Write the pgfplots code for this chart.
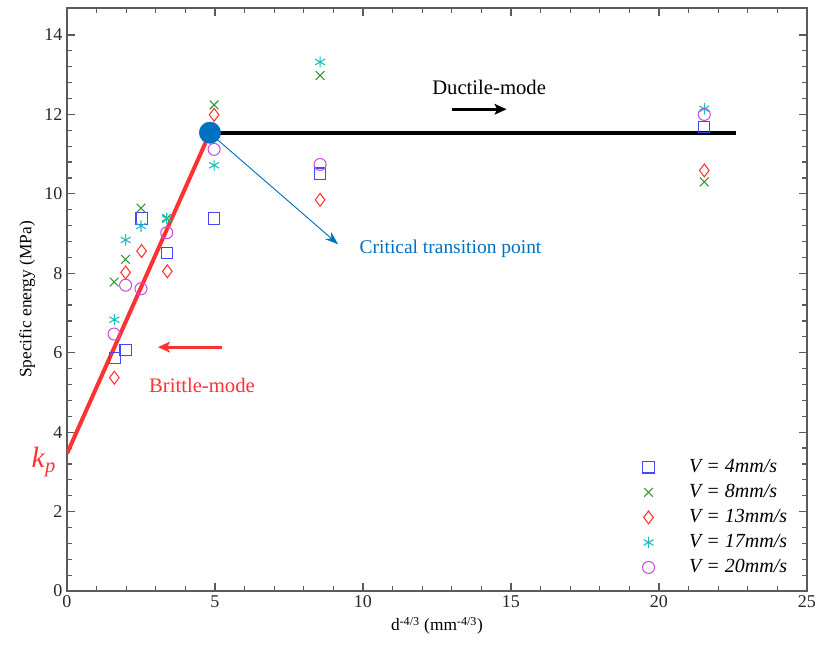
\documentclass[border=0pt]{standalone}
\usepackage{fontspec}
\setmainfont{Liberation Serif}
\usepackage{pgfplots}
\pgfplotsset{compat=1.18}
\usetikzlibrary{arrows.meta}
\definecolor{cblue}{RGB}{70,70,250}
\definecolor{cgreen}{RGB}{50,150,50}
\definecolor{cred}{RGB}{255,50,50}
\definecolor{ccyan}{RGB}{30,190,190}
\definecolor{cmag}{RGB}{200,80,220}
\definecolor{dotblue}{RGB}{0,112,192}
\definecolor{axgray}{RGB}{90,90,90}
\begin{document}
\begin{tikzpicture}
\begin{axis}[
  scale only axis,
  width=555pt, height=437.25pt,
  xmin=0, xmax=25, ymin=0, ymax=14.68,
  clip mode=individual,
  xtick={0,5,...,25}, ytick={0,2,...,14},
  minor x tick num=4, minor y tick num=4,
  tick align=inside, tick pos=both,
  major tick length=6pt, minor tick length=3.5pt,
  axis line style={axgray, line width=1.1pt},
  every tick/.style={axgray, line width=0.9pt},
  /pgf/number format/assume math mode=true,
  ticklabel style={font=\fontsize{13.5}{16}\selectfont, text=black!85},
  xlabel={d\textsuperscript{-4/3} (mm\textsuperscript{-4/3})},
  ylabel={Specific energy (MPa)},
  xlabel style={font=\fontsize{13}{15}\selectfont},
  ylabel style={font=\fontsize{13}{15}\selectfont},
  legend cell align=left,
  legend style={at={(rel axis cs:0.772,0.233)}, anchor=north west, draw=none, fill=none,
    font=\fontsize{15}{17}\selectfont\itshape,
    nodes={inner sep=0pt, text height=11pt, text depth=3pt},
    row sep=4.75pt,
    /tikz/every odd column/.append style={column sep=26pt}},
]
% fitted lines
\addplot[cred, line width=3pt, forget plot] coordinates {(0,3.46) (4.83,11.54)};
\addplot[black, line width=3pt, forget plot] coordinates {(4.83,11.54) (22.6,11.54)};

\addplot[only marks, mark=square, mark size=4.2pt, cblue, mark options={line width=0.8pt}] coordinates {
 (1.62,5.87) (1.98,6.06) (2.52,9.38) (3.39,8.51) (4.97,9.38) (8.55,10.51) (21.53,11.68)};
\addlegendentry{V = 4mm/s}
\addplot[only marks, mark=x, mark size=4.6pt, cgreen, mark options={line width=0.8pt}] coordinates {
 (1.59,7.78) (1.98,8.35) (2.50,9.64) (3.37,9.38) (4.97,12.24) (8.55,12.98) (21.53,10.30)};
\addlegendentry{V = 8mm/s}
\addplot[only marks, mark=diamond, mark size=4.8pt, cred, mark options={line width=0.8pt}] coordinates {
 (1.60,5.37) (1.98,8.02) (2.52,8.56) (3.39,8.05) (4.97,11.99) (8.55,9.85) (21.53,10.59)};
\addlegendentry{V = 13mm/s}
\addplot[only marks, mark=asterisk, mark size=4.3pt, ccyan, mark options={line width=0.8pt}] coordinates {
 (1.60,6.83) (1.98,8.84) (2.50,9.19) (3.37,9.38) (4.97,10.72) (8.55,13.32) (21.53,12.14)};
\addlegendentry{V = 17mm/s}
\addplot[only marks, mark=o, mark size=4.5pt, cmag, mark options={line width=0.8pt}] coordinates {
 (1.59,6.47) (1.98,7.70) (2.50,7.61) (3.37,9.02) (4.97,11.12) (8.55,10.74) (21.53,12.00)};
\addlegendentry{V = 20mm/s}

% critical transition point
\addplot[only marks, mark=*, mark size=8pt, dotblue, forget plot] coordinates {(4.83,11.54)};

\draw[dotblue, line width=0.7pt, -{Stealth[length=10pt,width=7pt]}] (axis cs:4.95,11.45) -- (axis cs:9.16,8.73);
\node[anchor=west, text=dotblue, font=\fontsize{14.6}{17}\selectfont] at (axis cs:9.73,8.62) {Critical transition point};

\draw[black, line width=2.2pt, -{Stealth[length=9pt,width=8pt,inset=2pt]}] (axis cs:13.0,12.13) -- (axis cs:14.85,12.13);
\node[font=\fontsize{15.5}{18}\selectfont] at (axis cs:14.26,12.68) {Ductile-mode};

\draw[cred, line width=2.2pt, -{Stealth[length=9pt,width=8pt,inset=2pt]}] (axis cs:5.24,6.14) -- (axis cs:3.07,6.14);
\node[text=cred, font=\fontsize{15.5}{18}\selectfont] at (axis cs:4.56,5.18) {Brittle-mode};

\node[text=cred, font=\fontsize{22}{24}\selectfont, anchor=base west, inner sep=0pt] at (axis cs:-1.2,3.1) {\textit{k}\textsubscript{\textit{p}}};
\end{axis}
\pgfresetboundingbox
\path[use as bounding box] (-50.25pt,-51pt) rectangle (564pt,443.25pt);
\end{tikzpicture}
\end{document}
